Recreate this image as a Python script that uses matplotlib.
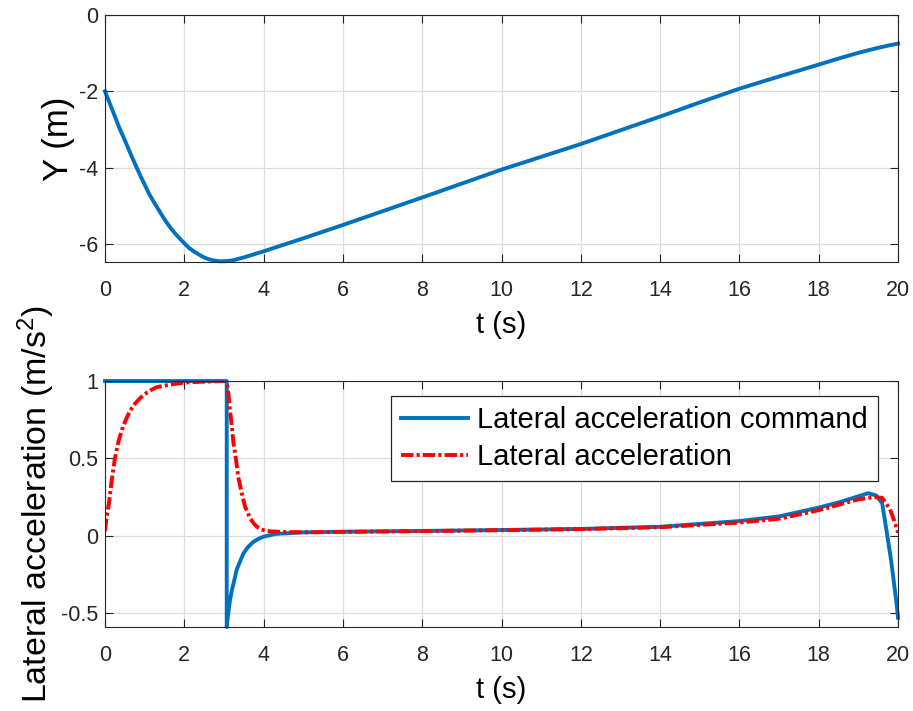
"""Lateral position and lateral acceleration over time, two stacked panels."""

import matplotlib

matplotlib.use("Agg")
import matplotlib.pyplot as plt

plt.rcParams["font.family"] = ["Liberation Sans", "DejaVu Sans"]
plt.rcParams["mathtext.fontset"] = "custom"
plt.rcParams["mathtext.rm"] = "Liberation Sans"
plt.rcParams["mathtext.it"] = "Liberation Sans"

# lateral position Y (m)
t_pos = [0, 0.13, 0.25, 0.38, 0.5, 0.65, 0.8, 0.9, 1.0, 1.12, 1.25, 1.38,
         1.5, 1.62, 1.75, 1.88, 2.0, 2.12, 2.25, 2.38, 2.5, 2.62, 2.75,
         2.88, 3.0, 3.12, 3.25, 3.5, 3.75, 4.0, 4.5, 5.0, 6.0, 8.0, 10.0,
         12.0, 14.0, 15.0, 16.0, 17.0, 18.0, 18.5, 19.0, 19.5, 19.8, 20.0]
y_pos = [-2.0, -2.34, -2.66, -3.0, -3.28, -3.65, -4.0, -4.23, -4.44, -4.7,
         -4.93, -5.15, -5.35, -5.53, -5.70, -5.85, -5.98, -6.1, -6.20,
         -6.28, -6.35, -6.40, -6.43, -6.45, -6.45, -6.44, -6.42, -6.35,
         -6.27, -6.19, -6.02, -5.85, -5.50, -4.78, -4.05, -3.38, -2.66,
         -2.29, -1.93, -1.61, -1.30, -1.14, -0.99, -0.86, -0.79, -0.75]

# lateral acceleration command (m/s^2)
t_cmd = [0, 3.07, 3.07, 3.09, 3.11, 3.15, 3.2, 3.25, 3.32, 3.4, 3.49, 3.6,
         3.74, 3.87, 4.0, 4.3, 5.0, 6.0, 8.0, 10.0, 12.0, 14.0, 16.0, 17.0,
         18.0, 18.5, 19.0, 19.25, 19.45, 19.6, 19.73, 19.82, 19.9, 19.96,
         20.0]
a_cmd = [1.0, 1.0, -0.59, -0.54, -0.5, -0.42, -0.35, -0.3, -0.22, -0.17,
         -0.115, -0.075, -0.04, -0.02, -0.006, 0.012, 0.022, 0.026, 0.031,
         0.037, 0.044, 0.058, 0.095, 0.125, 0.182, 0.215, 0.255, 0.275,
         0.26, 0.21, 0.0, -0.15, -0.31, -0.43, -0.53]

# achieved lateral acceleration (m/s^2)
t_act = [0, 0.04, 0.1, 0.17, 0.25, 0.34, 0.46, 0.58, 0.71, 0.85, 0.97, 1.15,
         1.3, 1.5, 1.72, 2.0, 2.4, 3.05, 3.1, 3.15, 3.2, 3.24, 3.3, 3.36,
         3.45, 3.53, 3.66, 3.75, 3.83, 3.95, 4.08, 4.5, 5.0, 6.0, 8.0, 10.0,
         12.0, 14.0, 16.0, 17.0, 18.0, 18.5, 19.0, 19.4, 19.6, 19.8, 19.9,
         20.0]
a_act = [0.03, 0.12, 0.21, 0.36, 0.5, 0.61, 0.71, 0.78, 0.84, 0.88, 0.91,
         0.94, 0.96, 0.97, 0.98, 0.99, 0.995, 1.0, 0.95, 0.82, 0.7, 0.6,
         0.5, 0.38, 0.275, 0.19, 0.113, 0.08, 0.058, 0.04, 0.03, 0.024,
         0.022, 0.025, 0.03, 0.036, 0.043, 0.055, 0.085, 0.11, 0.165, 0.2,
         0.235, 0.25, 0.245, 0.17, 0.1, 0.02]

BLUE = "#0072BD"
DARK = "#262626"
GRID = "#dcdcdc"


def style_axis(ax):
    ax.set_xlim(0, 20)
    ax.set_xticks(range(0, 21, 2))
    ax.grid(True, color=GRID, linewidth=0.9)
    ax.set_axisbelow(True)
    ax.tick_params(direction="in", length=6, width=0.8, colors=DARK,
                   labelsize=15.5, top=True, right=True)
    ax.tick_params(axis="x", pad=13)
    ax.tick_params(axis="y", pad=5)
    for spine in ax.spines.values():
        spine.set_color(DARK)
        spine.set_linewidth(0.8)
    ax.set_xlabel("t (s)", fontsize=21, color="black", labelpad=7)


fig = plt.figure(figsize=(9.13, 7.11), dpi=100)

ax_top = fig.add_axes([0.115, 0.6315, 0.8686, 0.3474])
ax_top.plot(t_pos, y_pos, color=BLUE, linewidth=2.8, clip_on=False)
style_axis(ax_top)
ax_top.set_ylim(-6.47, 0)
ax_top.set_yticks([-6, -4, -2, 0])
ax_top.set_yticklabels(["-6", "-4", "-2", "0"])
ax_top.set_ylabel("Y (m)", fontsize=25, labelpad=3)

ax_bot = fig.add_axes([0.115, 0.1181, 0.8686, 0.346])
ax_bot.plot(t_cmd, a_cmd, color=BLUE, linewidth=2.8, clip_on=False,
            label="Lateral acceleration command")
ax_bot.plot(t_act, a_act, color="red", linewidth=2.8,
            dashes=(3.2, 0.8, 0.8, 0.8), label="Lateral acceleration")
style_axis(ax_bot)
ax_bot.set_ylim(-0.59, 1.0)
ax_bot.set_yticks([-0.5, 0, 0.5, 1])
ax_bot.set_yticklabels(["-0.5", "0", "0.5", "1"])
ax_bot.set_ylabel("Lateral acceleration (m/s$^2$)", fontsize=24.5,
                  labelpad=3)

legend = ax_bot.legend(loc="upper right", bbox_to_anchor=(0.975, 0.939),
                       borderaxespad=0, fontsize=21, frameon=True,
                       fancybox=False, handlelength=2.3, handletextpad=0.3,
                       borderpad=0.35, labelspacing=0.3)
legend.get_frame().set_edgecolor(DARK)
legend.get_frame().set_linewidth(0.9)
legend.get_frame().set_alpha(1)

fig.savefig("out.png", dpi=100)
